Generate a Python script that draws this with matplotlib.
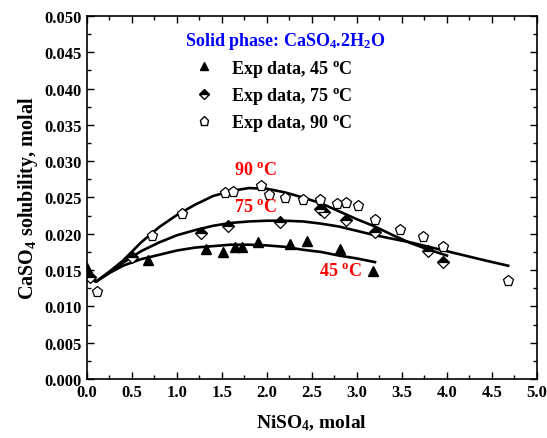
import numpy as np
import matplotlib
matplotlib.use('Agg')
import matplotlib.pyplot as plt
from matplotlib.lines import Line2D
from matplotlib.ticker import MultipleLocator, FormatStrFormatter

plt.rcParams['font.family'] = 'Liberation Serif'
plt.rcParams['font.weight'] = 'bold'
plt.rcParams['axes.labelweight'] = 'bold'
plt.rcParams['mathtext.fontset'] = 'custom'
plt.rcParams['mathtext.rm'] = 'Liberation Serif:bold'
plt.rcParams['mathtext.it'] = 'Liberation Serif:bold'
plt.rcParams['mathtext.bf'] = 'Liberation Serif:bold'

x45 = [0.0, 0.68, 1.32, 1.51, 1.64, 1.72, 1.90, 2.26, 2.44, 2.81, 3.18]
y45 = [0.0153, 0.0164, 0.0179, 0.0175, 0.0182, 0.0182, 0.0189, 0.0186, 0.0190, 0.0179, 0.0149]

x75 = [0.03, 0.50, 1.27, 1.57, 2.15, 2.59, 2.63, 2.88, 3.20, 3.79, 3.96]
y75 = [0.0140, 0.0168, 0.0201, 0.0211, 0.0216, 0.0234, 0.0230, 0.0219, 0.0203, 0.0176, 0.0161]

x90 = [0.11, 0.72, 1.06, 1.53, 1.62, 1.93, 2.02, 2.20, 2.40, 2.59, 2.78, 2.88, 3.01, 3.20, 3.48, 3.73, 3.96, 4.68]
y90 = [0.0120, 0.0197, 0.0227, 0.0256, 0.0258, 0.0266, 0.0254, 0.0249, 0.0247, 0.0246, 0.0241, 0.0242,
       0.0238, 0.0219, 0.0205, 0.0195, 0.0182, 0.0135]

# --- model curves ---
cx45 = [0.0, 0.1, 0.25, 0.4, 0.6, 0.8, 1.0, 1.2, 1.4, 1.6, 1.8, 2.0, 2.2, 2.4, 2.6, 2.8, 3.0, 3.2]
cy45 = [0.0142, 0.0134, 0.0146, 0.0156, 0.0165, 0.0171, 0.0177, 0.0181, 0.0183, 0.0185, 0.0185, 0.0184,
        0.0182, 0.0178, 0.0175, 0.0170, 0.0166, 0.0161]

cx75 = [0.0, 0.1, 0.25, 0.4, 0.6, 0.8, 1.0, 1.2, 1.4, 1.6, 1.8, 2.0, 2.2, 2.4, 2.6, 2.8, 3.0, 3.2,
        3.4, 3.6, 3.8, 4.0, 4.2, 4.4, 4.68]
cy75 = [0.0148, 0.0134, 0.0147, 0.0160, 0.0176, 0.0188, 0.0198, 0.0205, 0.0211, 0.0215, 0.0217, 0.0218,
        0.0218, 0.0217, 0.0214, 0.0210, 0.0204, 0.0198, 0.0193, 0.0188, 0.0182, 0.0176, 0.0170, 0.0164, 0.0156]

cx90 = [0.0, 0.1, 0.25, 0.4, 0.6, 0.8, 1.0, 1.2, 1.4, 1.6, 1.8, 2.0, 2.2, 2.4, 2.6, 2.8, 3.0, 3.2,
        3.4, 3.6, 3.8, 4.0]
cy90 = [0.0155, 0.0134, 0.0148, 0.0163, 0.0188, 0.0209, 0.0226, 0.0240, 0.0252, 0.0259, 0.0263, 0.0262,
        0.0257, 0.0250, 0.0242, 0.0231, 0.0220, 0.0210, 0.0198, 0.0187, 0.0178, 0.0170]

fig = plt.figure(figsize=(5.47, 4.39), dpi=100)
ax = fig.add_axes([0.159, 0.1344, 0.8227, 0.8269])

lw = 1.9
ax.plot(cx45, cy45, color='black', lw=lw)
ax.plot(cx75, cy75, color='black', lw=lw)
ax.plot(cx90, cy90, color='black', lw=lw)

ax.plot(x45, y45, ls='none', marker='^', ms=7, mfc='black', mec='black')
ax.plot(x75, y75, ls='none', marker='D', ms=6, mfc='black', mfcalt='white', fillstyle='top',
        mec='black', mew=0.9)
ax.plot(x90, y90, ls='none', marker='p', ms=8, mfc='white', mec='black', mew=0.9)

ax.text(1.87, 0.0289, '90 $^\\mathrm{o}$C', color='red', fontsize=13, ha='center', va='center')
ax.text(1.87, 0.0238, '75 $^\\mathrm{o}$C', color='red', fontsize=13, ha='center', va='center')
ax.text(2.82, 0.0150, '45 $^\\mathrm{o}$C', color='red', fontsize=13, ha='center', va='center')

ax.text(0.44, 0.933, 'Solid phase: CaSO$_4$.2H$_2$O', transform=ax.transAxes, color='#0000ff',
        fontsize=13, ha='center', va='center')

handles = [
    Line2D([], [], ls='none', marker='^', ms=6, mfc='black', mec='black'),
    Line2D([], [], ls='none', marker='D', ms=5, mfc='black', mfcalt='white', fillstyle='top', mec='black'),
    Line2D([], [], ls='none', marker='p', ms=6.5, mfc='white', mec='black'),
]
labels = ['Exp data, 45 $^\\mathrm{o}$C', 'Exp data, 75 $^\\mathrm{o}$C', 'Exp data, 90 $^\\mathrm{o}$C']
ax.legend(handles, labels, loc='upper left', bbox_to_anchor=(0.224, 0.905), frameon=False,
          fontsize=13, handlelength=1.0, handletextpad=1.0, labelspacing=0.35, borderaxespad=0)

ax.set_xlim(0, 5.0)
ax.set_ylim(0, 0.050)
ax.xaxis.set_major_locator(MultipleLocator(0.5))
ax.xaxis.set_minor_locator(MultipleLocator(0.25))
ax.yaxis.set_major_locator(MultipleLocator(0.005))
ax.yaxis.set_minor_locator(MultipleLocator(0.0025))
ax.xaxis.set_major_formatter(FormatStrFormatter('%.1f'))
ax.yaxis.set_major_formatter(FormatStrFormatter('%.3f'))
ax.tick_params(which='both', direction='in', top=True, right=True, labelsize=12, width=1.0)
ax.tick_params(which='major', length=5)
ax.tick_params(which='minor', length=3)
for s in ax.spines.values():
    s.set_linewidth(1.2)

ax.set_xlabel('NiSO$_4$, molal', fontsize=14, labelpad=9)
ax.set_ylabel('CaSO$_4$ solubility, molal', fontsize=14.5, labelpad=3)

fig.savefig('out.png', dpi=100)
